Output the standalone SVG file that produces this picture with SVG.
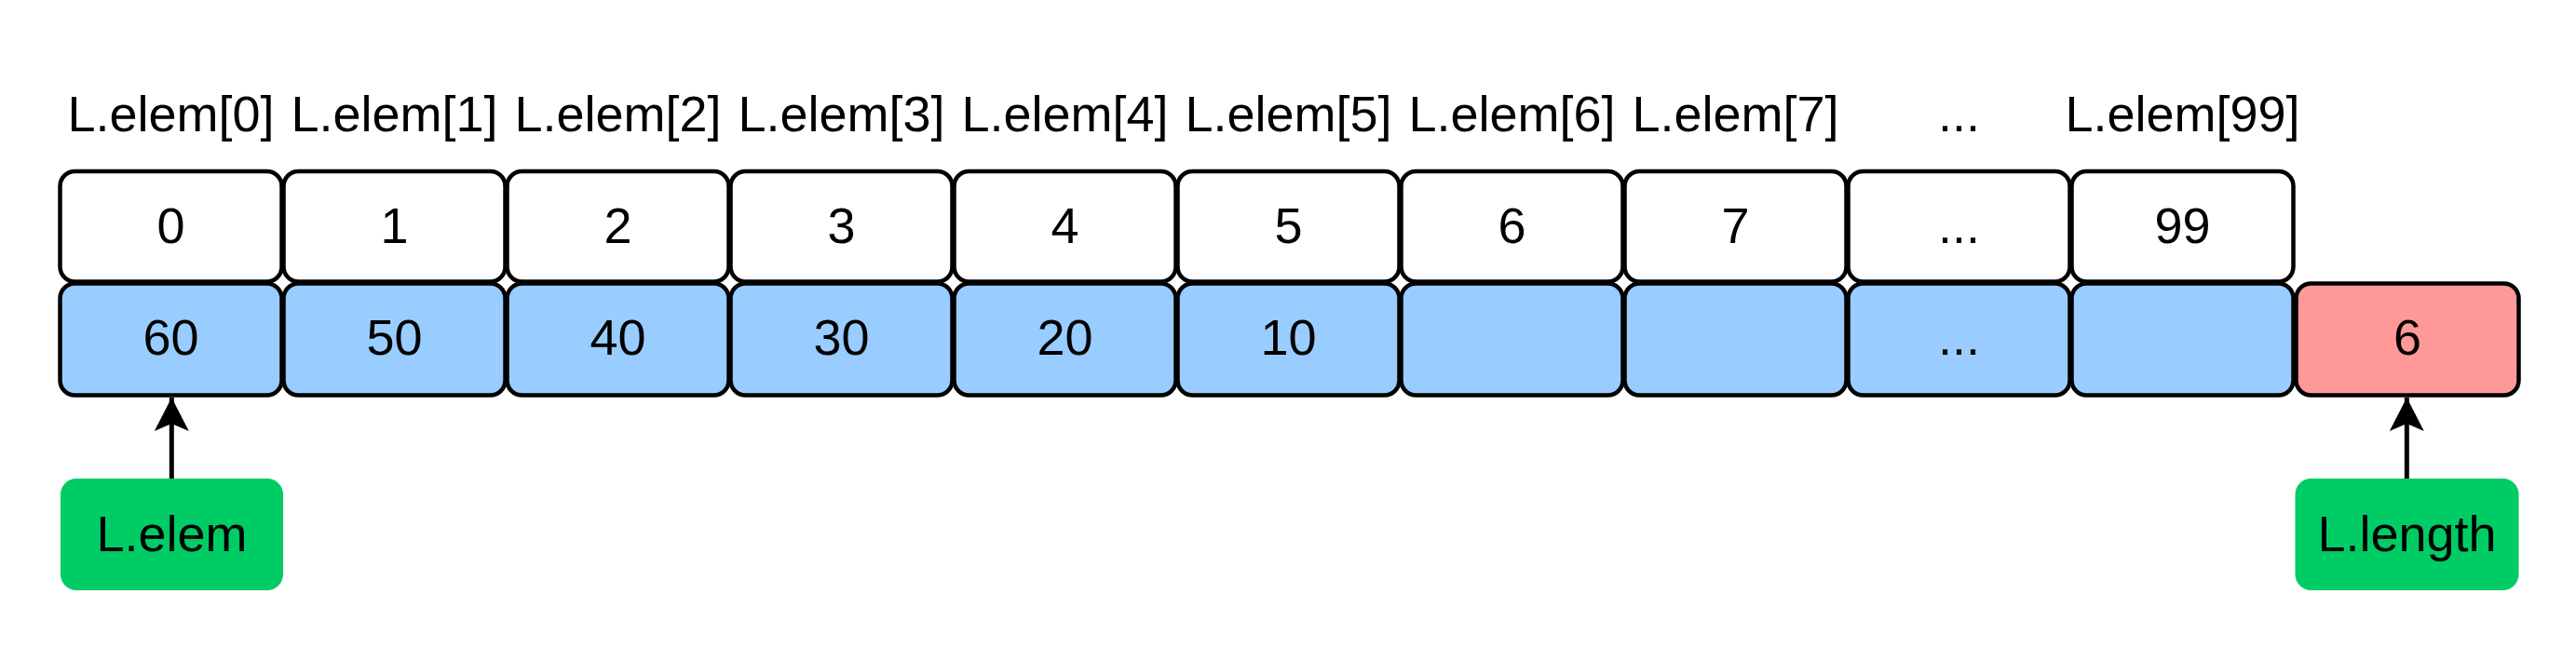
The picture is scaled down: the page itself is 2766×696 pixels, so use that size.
<svg xmlns="http://www.w3.org/2000/svg" width="2766" height="696" viewBox="0 0 2766 696">
  <style>
    .lbl { font-family: "Liberation Sans", Arial, sans-serif; font-size: 54px; fill: #000; text-anchor: middle; }
    .idx { fill: #ffffff; stroke: #000; stroke-width: 4.5; }
    .val { fill: #99ccff; stroke: #000; stroke-width: 4.5; }
    .len { fill: #ff9999; stroke: #000; stroke-width: 4.5; }
    .ptr { fill: #00cc66; stroke: none; }
    .conn { stroke: #000; stroke-width: 5; fill: none; }
  </style>
  <defs>
    <marker id="arrow" markerUnits="userSpaceOnUse" markerWidth="42" markerHeight="42" viewBox="0 0 42 42" refX="37" refY="21" orient="auto">
      <path d="M37,21 L1,2.5 L9,21 L1,39.5 Z" fill="#000"/>
    </marker>
  </defs>
  <rect width="2766" height="696" fill="#ffffff"/>

  <g id="labels">
    <text class="lbl" x="183.5" y="141">L.elem[0]</text>
    <text class="lbl" x="423.5" y="141">L.elem[1]</text>
    <text class="lbl" x="663.5" y="141">L.elem[2]</text>
    <text class="lbl" x="903.5" y="141">L.elem[3]</text>
    <text class="lbl" x="1143.5" y="141">L.elem[4]</text>
    <text class="lbl" x="1383.5" y="141">L.elem[5]</text>
    <text class="lbl" x="1623.5" y="141">L.elem[6]</text>
    <text class="lbl" x="1863.5" y="141">L.elem[7]</text>
    <text class="lbl" x="2103.5" y="141">...</text>
    <text class="lbl" x="2343.5" y="141">L.elem[99]</text>
  </g>

  <g id="idx0"><rect class="idx" x="64.5" y="184" width="238" height="118.5" rx="16"/><text class="lbl" x="183.5" y="261">0</text></g>
  <g id="idx1"><rect class="idx" x="304.5" y="184" width="238" height="118.5" rx="16"/><text class="lbl" x="423.5" y="261">1</text></g>
  <g id="idx2"><rect class="idx" x="544.5" y="184" width="238" height="118.5" rx="16"/><text class="lbl" x="663.5" y="261">2</text></g>
  <g id="idx3"><rect class="idx" x="784.5" y="184" width="238" height="118.5" rx="16"/><text class="lbl" x="903.5" y="261">3</text></g>
  <g id="idx4"><rect class="idx" x="1024.5" y="184" width="238" height="118.5" rx="16"/><text class="lbl" x="1143.5" y="261">4</text></g>
  <g id="idx5"><rect class="idx" x="1264.5" y="184" width="238" height="118.5" rx="16"/><text class="lbl" x="1383.5" y="261">5</text></g>
  <g id="idx6"><rect class="idx" x="1504.5" y="184" width="238" height="118.5" rx="16"/><text class="lbl" x="1623.5" y="261">6</text></g>
  <g id="idx7"><rect class="idx" x="1744.5" y="184" width="238" height="118.5" rx="16"/><text class="lbl" x="1863.5" y="261">7</text></g>
  <g id="idx8"><rect class="idx" x="1984.5" y="184" width="238" height="118.5" rx="16"/><text class="lbl" x="2103.5" y="261">...</text></g>
  <g id="idx9"><rect class="idx" x="2224.5" y="184" width="238" height="118.5" rx="16"/><text class="lbl" x="2343.5" y="261">99</text></g>

  <g id="val0"><rect class="val" x="64.5" y="304.5" width="238" height="120" rx="16"/><text class="lbl" x="183.5" y="381">60</text></g>
  <g id="val1"><rect class="val" x="304.5" y="304.5" width="238" height="120" rx="16"/><text class="lbl" x="423.5" y="381">50</text></g>
  <g id="val2"><rect class="val" x="544.5" y="304.5" width="238" height="120" rx="16"/><text class="lbl" x="663.5" y="381">40</text></g>
  <g id="val3"><rect class="val" x="784.5" y="304.5" width="238" height="120" rx="16"/><text class="lbl" x="903.5" y="381">30</text></g>
  <g id="val4"><rect class="val" x="1024.5" y="304.5" width="238" height="120" rx="16"/><text class="lbl" x="1143.5" y="381">20</text></g>
  <g id="val5"><rect class="val" x="1264.5" y="304.5" width="238" height="120" rx="16"/><text class="lbl" x="1383.5" y="381">10</text></g>
  <g id="val6"><rect class="val" x="1504.5" y="304.5" width="238" height="120" rx="16"/></g>
  <g id="val7"><rect class="val" x="1744.5" y="304.5" width="238" height="120" rx="16"/></g>
  <g id="val8"><rect class="val" x="1984.5" y="304.5" width="238" height="120" rx="16"/><text class="lbl" x="2103.5" y="381">...</text></g>
  <g id="val9"><rect class="val" x="2224.5" y="304.5" width="238" height="120" rx="16"/></g>
  <g id="length"><rect class="len" x="2465.5" y="304.5" width="239" height="120" rx="16"/><text class="lbl" x="2585" y="381">6</text></g>

  <g id="ptr-elem"><rect class="ptr" x="65" y="514" width="239" height="120" rx="17"/><text class="lbl" x="184.5" y="592">L.elem</text></g>
  <g id="ptr-length"><rect class="ptr" x="2464.5" y="514" width="240" height="120" rx="17"/><text class="lbl" x="2584.5" y="592">L.length</text></g>

  <g id="connectors">
    <line class="conn" x1="184.3" y1="514" x2="184.3" y2="427" marker-end="url(#arrow)"/>
    <line class="conn" x1="2584.3" y1="514" x2="2584.3" y2="427" marker-end="url(#arrow)"/>
  </g>
</svg>
